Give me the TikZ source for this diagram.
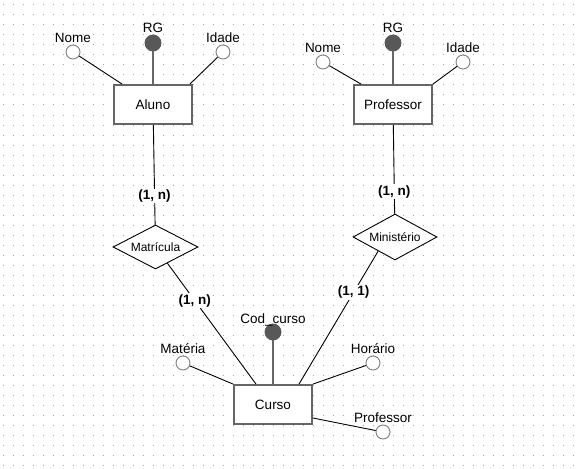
\documentclass[tikz,border=0pt]{standalone}
\usepackage{fontspec}
\setmainfont{Liberation Sans}
\usepackage{tikz}
\usetikzlibrary{
  shapes.geometric,
  positioning
}
\definecolor{BoxGray}{RGB}{102,102,102}
\definecolor{KeyGray}{RGB}{88,88,88}
\definecolor{RingGray}{RGB}{128,128,128}
\definecolor{DotGray}{RGB}{165,165,165}
\tikzset{
  entidade/.style={draw=BoxGray,fill=white,line width=1.8pt,minimum width=78pt,minimum height=39pt,inner sep=0pt,font=\fontsize{13.5}{16}\selectfont},
  relacao/.style={diamond,draw=black,fill=white,line width=0.9pt,aspect=1.9,inner sep=0pt,font=\fontsize{12}{14}\selectfont},
  atributo/.style={circle,draw=RingGray,fill=white,line width=0.9pt,minimum size=14pt,inner sep=0pt},
  chave/.style={circle,draw=KeyGray,fill=KeyGray,line width=0.9pt,minimum size=16pt,inner sep=0pt},
  rotulo/.style={anchor=base,inner sep=0pt,font=\fontsize{13.5}{16}\selectfont},
  card/.style={fill=white,inner sep=1pt,font=\bfseries\fontsize{13.5}{16}\selectfont},
  attrline/.style={draw=black,line width=0.9pt},
  keyline/.style={draw=BoxGray,line width=1.8pt},
  relline/.style={draw=black,line width=0.9pt}
}

\begin{document}
\begin{tikzpicture}[x=1pt,y=-1pt]
\useasboundingbox (0,0) rectangle (580,468);
\fill[white] (0,0) rectangle (580,468);
\foreach \x in {3,13,...,573}{
  \foreach \y in {5,15,...,465}{
    \fill[DotGray] (\x-0.5,\y-0.5) rectangle ++(1,1);
  }
}
% entidades
\node[entidade] (aluno) at (153,104.5) {Aluno};
\node[entidade] (prof) at (393,104.5) {Professor};
\node[entidade] (curso) at (273,404.5) {Curso};
% relacionamentos
\node[relacao, minimum width=85pt, minimum height=44pt] (mat) at (155.5,247) {Matrícula};
\node[relacao, minimum width=84pt, minimum height=46pt] (min) at (395,237) {Ministério};
% atributos de Aluno
\node[atributo] (a-nome) at (73,52) {};
\node[chave] (a-rg) at (153,43) {};
\node[atributo] (a-idade) at (223,52) {};
\node[rotulo] (a-nome-t) at (73,43) {Nome};
\node[rotulo] (a-rg-t) at (153,33) {RG};
\node[rotulo] (a-idade-t) at (223,43) {Idade};
% atributos de Professor
\node[atributo] (p-nome) at (323,62) {};
\node[chave] (p-rg) at (393,43) {};
\node[atributo] (p-idade) at (463,62) {};
\node[rotulo] (p-nome-t) at (323,53) {Nome};
\node[rotulo] (p-rg-t) at (393,33) {RG};
\node[rotulo] (p-idade-t) at (463,53) {Idade};
% atributos de Curso
\node[chave] (c-cod) at (273,332) {};
\node[atributo] (c-mat) at (183,363) {};
\node[atributo] (c-hor) at (373,363) {};
\node[atributo] (c-prof) at (383,432) {};
\node[rotulo] (c-cod-t) at (273,323) {Cod\_curso};
\node[rotulo] (c-mat-t) at (183,353) {Matéria};
\node[rotulo] (c-hor-t) at (373,353) {Horário};
\node[rotulo] (c-prof-t) at (383,422) {Professor};
% ligacoes
\draw[attrline] (a-nome) -- ([xshift=9pt]aluno.north west);
\draw[keyline] (a-rg) -- (aluno.north);
\draw[attrline] (a-idade) -- ([xshift=-3pt]aluno.north east);
\draw[attrline] (p-nome) -- ([xshift=8pt]prof.north west);
\draw[keyline] (p-rg) -- (prof.north);
\draw[attrline] (p-idade) -- (prof.north east);
\draw[keyline] (c-cod) -- (curso.north);
\draw[attrline] (c-mat) -- (curso.north west);
\draw[attrline] (c-hor) -- (curso.north east);
\draw[attrline] (c-prof) -- ([yshift=-13.5pt]curso.east);
\draw[relline] (aluno) -- node[card, pos=0.71] (card1) {(1, n)} (mat);
\draw[relline] (mat) -- node[card, pos=0.31] (card2) {(1, n)} ([xshift=-17pt]curso.north);
\draw[relline] (prof) -- node[card, pos=0.75] (card3) {(1, n)} (min);
\draw[relline] (min.220) -- node[card, pos=0.31] (card4) {(1, 1)} ([xshift=26pt]curso.north);
\end{tikzpicture}
\end{document}
